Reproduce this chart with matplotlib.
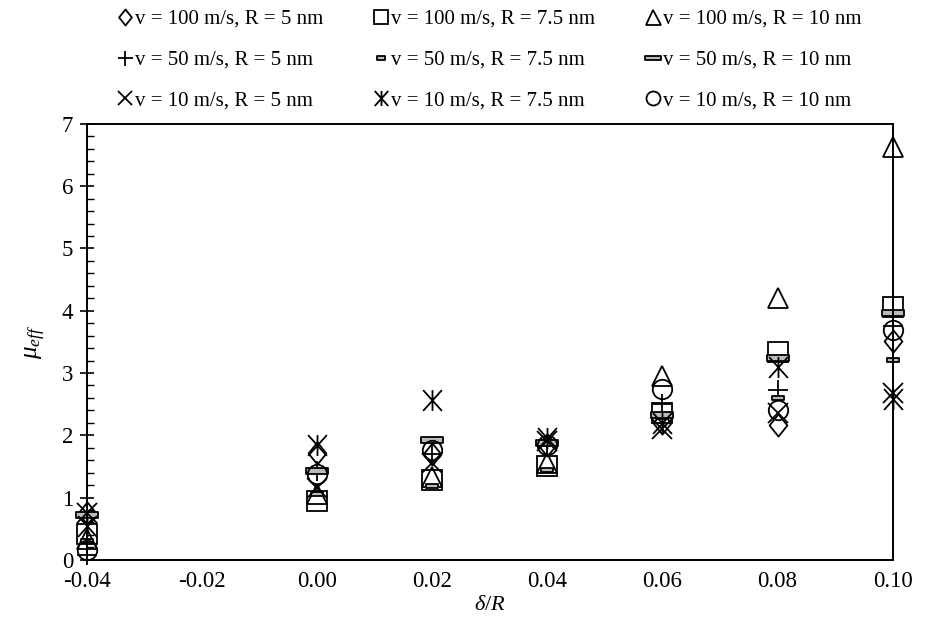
import matplotlib
matplotlib.use("Agg")
import matplotlib.pyplot as plt
from matplotlib.path import Path
from matplotlib.ticker import MultipleLocator, FormatStrFormatter

plt.rcParams["font.family"] = ["Liberation Serif", "DejaVu Serif"]
plt.rcParams["mathtext.fontset"] = "custom"
plt.rcParams["mathtext.it"] = "Liberation Serif:italic"
plt.rcParams["mathtext.rm"] = "Liberation Serif"

delta_R = [-0.04, 0.00, 0.02, 0.04, 0.06, 0.08, 0.10]

labels = [
    "v = 100 m/s, R = 5 nm", "v = 100 m/s, R = 7.5 nm", "v = 100 m/s, R = 10 nm",
    "v = 50 m/s, R = 5 nm", "v = 50 m/s, R = 7.5 nm", "v = 50 m/s, R = 10 nm",
    "v = 10 m/s, R = 5 nm", "v = 10 m/s, R = 7.5 nm", "v = 10 m/s, R = 10 nm",
]

mu_v100_R5 = [0.75, 1.72, 1.70, 1.85, 2.20, 2.17, 3.52]
mu_v100_R75 = [0.42, 0.95, 1.28, 1.50, 2.35, 3.34, 4.06]
mu_v100_R10 = [0.33, 1.05, 1.33, 1.55, 2.95, 4.20, 6.63]
mu_v50_R5 = [0.08, 1.42, 1.70, 1.85, 2.50, 2.73, 3.75]
mu_v50_R75 = [0.30, 1.05, 1.18, 1.45, 2.30, 2.60, 3.21]
mu_v50_R10 = [0.72, 1.42, 1.92, 1.88, 2.32, 3.24, 3.96]
mu_v10_R5 = [0.75, 1.15, 1.55, 1.90, 2.10, 2.36, 2.68]
mu_v10_R75 = [0.55, 1.85, 2.57, 1.95, 2.20, 3.10, 2.58]
mu_v10_R10 = [0.15, 1.38, 1.76, 1.85, 2.75, 2.41, 3.69]

series = [mu_v100_R5, mu_v100_R75, mu_v100_R10,
          mu_v50_R5, mu_v50_R75, mu_v50_R10,
          mu_v10_R5, mu_v10_R75, mu_v10_R10]

# custom marker shapes
L, M, C = Path.LINETO, Path.MOVETO, Path.CLOSEPOLY
diamond = Path([(0, 1), (0.8, 0), (0, -1), (-0.8, 0), (0, 1)], [M, L, L, L, C])
asterisk = Path([(0, -1), (0, 1), (-0.9, -1), (0.9, 1), (-0.9, 1), (0.9, -1)],
                [M, L, M, L, M, L])
bar_small = Path([(-1, -0.4), (1, -0.4), (1, 0.4), (-1, 0.4), (-1, -0.4)], [M, L, L, L, C])
bar_wide = Path([(-1, -0.28), (1, -0.28), (1, 0.28), (-1, 0.28), (-1, -0.28)], [M, L, L, L, C])

styles = [
    dict(marker=diamond, ms=16, mfc="none"),
    dict(marker="s", ms=14, mfc="none"),
    dict(marker="^", ms=15, mfc="none"),
    dict(marker="+", ms=15),
    dict(marker=bar_small, ms=8, mfc="#bbbbbb"),
    dict(marker=bar_wide, ms=16, mfc="#bbbbbb"),
    dict(marker="x", ms=14),
    dict(marker=asterisk, ms=15),
    dict(marker="o", ms=14, mfc="none"),
]

fig = plt.figure(figsize=(9.25, 6.29), dpi=100)
ax = fig.add_axes([0.094, 0.110, 0.871, 0.693])

handles = []
for ys, lab, st in zip(series, labels, styles):
    h, = ax.plot(delta_R, ys, linestyle="none", mec="black", mew=1.3,
                 label=lab, clip_on=False, **st)
    handles.append(h)

ax.set_xlim(-0.04, 0.10)
ax.set_ylim(0, 7)
ax.xaxis.set_major_locator(MultipleLocator(0.02))
ax.xaxis.set_major_formatter(FormatStrFormatter("%.2f"))
ax.yaxis.set_major_locator(MultipleLocator(1))
ax.yaxis.set_minor_locator(MultipleLocator(0.2))
ax.tick_params(axis="x", which="both", length=0, labelsize=16.5, pad=8)
ax.tick_params(axis="y", which="major", direction="inout", length=10, width=1.2,
               labelsize=16.5, pad=5)
ax.tick_params(axis="y", which="minor", direction="in", length=5, width=1.0)
for s in ax.spines.values():
    s.set_linewidth(1.4)

ax.set_xlabel(r"$\delta/R$", fontsize=16, labelpad=3)
ax.set_ylabel(r"$\mu_{eff}$", fontsize=18, labelpad=10)

# legend rows grouped by speed: fill order is column-major
order = [0, 3, 6, 1, 4, 7, 2, 5, 8]
leg = fig.legend(handles=[handles[i] for i in order], loc="center",
                 bbox_to_anchor=(0.53, 1 - 60 / 629), ncol=3, frameon=False,
                 fontsize=15, handlelength=0.6, handletextpad=0.2, columnspacing=2.45,
                 labelspacing=1.02, markerscale=0.72)

fig.savefig("out.png", dpi=100)
